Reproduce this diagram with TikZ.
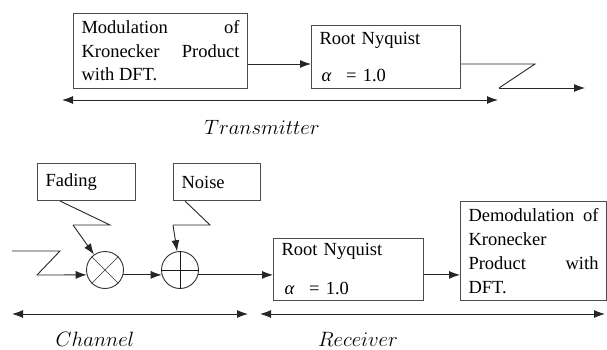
\documentclass[tikz,border=0pt]{standalone}
\usepackage{fontspec}
\setmainfont{Liberation Serif}
\usetikzlibrary{arrows.meta}
\newcommand\dfont{\fontsize{18.5}{23.5}\selectfont}
\newcommand\efont{\fontsize{18.5}{24}\selectfont}
\newcommand\lfont{\fontsize{19.5}{24}\selectfont}
\newcommand\alp{{\itshape α}}
\begin{document}
\begin{tikzpicture}[x=1pt,y=-1pt,
  box/.style={draw=black!70, line width=1pt, anchor=north west, inner xsep=8pt, inner ysep=0pt, font=\dfont},
  wire/.style={line width=0.9pt, draw=black!85},
  tip/.tip={Latex[length=11pt,width=8pt]},
  arr/.style={wire, -tip},
  dbl/.style={wire, tip-tip},
  lbl/.style={font=\lfont, anchor=base, inner sep=0pt},
  junc/.style={circle, draw=black!80, minimum size=37pt, inner sep=0pt, line width=0.9pt}
]
\useasboundingbox (0,0) rectangle (607,350);

% ---------------- Transmitter ----------------
\node[box, text width=158pt, minimum width=174pt, minimum height=75pt, align=justify] (mod) at (73,13)
  {\hyphenpenalty=10000 Modulation of\linebreak Kronecker Product\linebreak with DFT.};
\node[box, text width=133pt, minimum width=149pt, minimum height=63pt, align=left] (tx) at (311,25)
  {Root Nyquist\\[13.5pt]\hspace*{2pt}\alp\hspace{15pt}= 1.0};
\coordinate (ty) at (0,64);
\draw[arr] (ty -| mod.east) -- (ty -| tx.west);
\coordinate (z1) at (535,64);
\coordinate (z2) at (499,88);
\coordinate (z3) at (585,88);
\draw[wire] (ty -| tx.east) -- (z1) -- (z2);
\draw[arr] (z2) -- (z3);
\coordinate (tL) at (62,100);
\coordinate (tR) at (498,100);
\draw[dbl] (tL) -- (tR);
\node[lbl] (ttx) at (262,134) {$Transmitter$};

% ---------------- Channel ----------------
\node[box, text width=82pt, minimum width=98pt, minimum height=37pt, align=left] (fad) at (37,163) {Fading};
\node[box, text width=71pt, minimum width=87pt, minimum height=37pt, align=left] (noi) at (173,163) {Noise};
\node[junc] (mul) at (105,270) {};
\node[junc] (add) at (180,270) {};
\draw[line width=0.6pt, black!80] (mul.45) -- (mul.225) (mul.135) -- (mul.315);
\draw[line width=0.8pt, black!90] (add.north) -- (add.south) (add.west) -- (add.east);

\coordinate (f1) at (110,225);
\coordinate (f2) at (73,225);
\draw[wire] ([xshift=23pt]fad.south west) -- (f1) -- (f2);
\draw[arr] (f2) -- (mul);

\coordinate (n1) at (210,225);
\coordinate (n2) at (173,225);
\draw[wire] ([xshift=12pt]noi.south west) -- (n1) -- (n2);
\draw[arr] (n2) -- (add);

\coordinate (i0) at (12,251);
\coordinate (i1) at (60,251);
\coordinate (i2) at (37,275);
\draw[wire] (i0) -- (i1) -- (i2);
\draw[arr] (i2) -- (mul.195);
\draw[arr] (mul.-15) -- (add.195);

% ---------------- Receiver ----------------
\node[box, text width=134pt, minimum width=150pt, minimum height=62pt, align=left] (rx) at (273,238)
  {Root Nyquist\\[15.5pt]\hspace*{3pt}\alp\hspace{15pt}= 1.0};
\node[box, text width=130pt, minimum width=146pt, minimum height=99pt, align=justify, font=\efont] (dm) at (460,201)
  {\hyphenpenalty=10000 Demodulation of\linebreak Kronecker\linebreak Product with\linebreak DFT.};
\draw[arr] (add.-15) -- (add.-15 -| rx.west);
\draw[arr] (add.-15 -| rx.east) -- (add.-15 -| dm.west);

\coordinate (c0) at (12,314);
\coordinate (c1) at (248,314);
\coordinate (r0) at (260,314);
\coordinate (r1) at (605,314);
\draw[dbl] (c0) -- (c1);
\draw[dbl] (r0) -- (r1);
\node[lbl] (chl) at (95,346) {$Channel$};
\node[lbl] (rcv) at (358,346) {$Receiver$};
\end{tikzpicture}
\end{document}
